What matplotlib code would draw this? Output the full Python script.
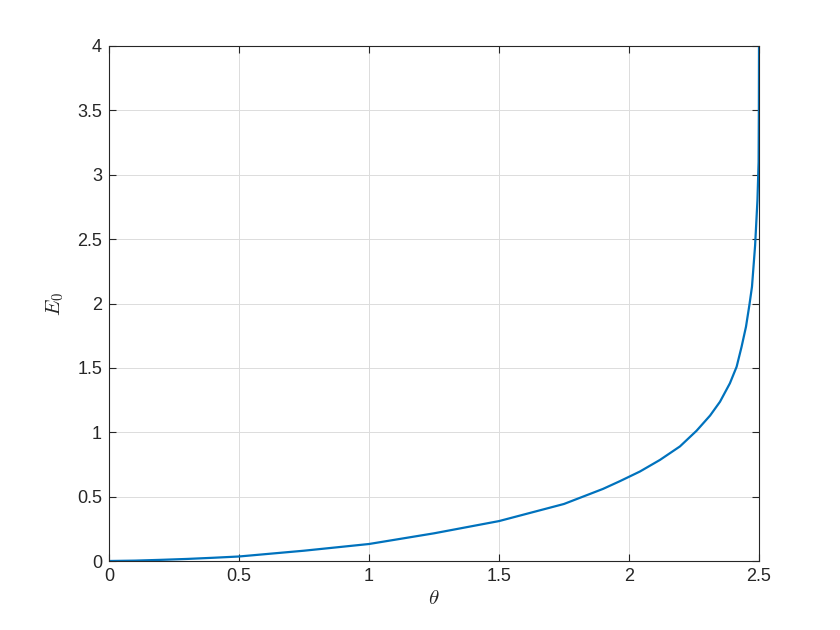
import matplotlib
matplotlib.use("Agg")
import matplotlib.pyplot as plt
from matplotlib.ticker import FuncFormatter

# values
theta = [0.0, 0.1, 0.2, 0.3, 0.4, 0.5, 0.75, 1.0, 1.25, 1.5, 1.75, 1.9, 1.965,
         2.042, 2.119, 2.196, 2.26, 2.312, 2.35, 2.388, 2.414, 2.433, 2.45,
         2.463, 2.473, 2.485, 2.494, 2.4985, 2.4995, 2.5]
E0 = [0.0, 0.003, 0.009, 0.016, 0.025, 0.035, 0.08, 0.132, 0.215, 0.31, 0.443,
      0.56, 0.62, 0.695, 0.785, 0.89, 1.012, 1.13, 1.237, 1.38, 1.509,
      1.664, 1.82, 1.988, 2.13, 2.45, 2.8, 3.1, 3.5, 4.0]

xticks = [0, 0.5, 1, 1.5, 2, 2.5]
yticks = [0, 0.5, 1, 1.5, 2, 2.5, 3, 3.5, 4]

plt.rcParams['font.family'] = ['Liberation Sans', 'DejaVu Sans']
plt.rcParams['mathtext.fontset'] = 'cm'

fig = plt.figure(figsize=(8.4, 6.3), dpi=100)
ax = fig.add_axes([109 / 840, 69 / 630, 650 / 840, 515 / 630])

ax.plot(theta, E0, color='#0072BD', linewidth=1.6)

ax.set_xlim(0, 2.5)
ax.set_ylim(0, 4)
ax.set_xticks(xticks)
ax.set_yticks(yticks)
fmt = FuncFormatter(lambda v, p: ('%g' % v))
ax.xaxis.set_major_formatter(fmt)
ax.yaxis.set_major_formatter(fmt)

ax.grid(True, color='#dcdcdc', linewidth=0.7)
ax.set_axisbelow(True)
ax.tick_params(direction='in', top=True, right=True, length=5, width=0.8,
               colors='#262626', labelsize=13, pad=5)
for s in ax.spines.values():
    s.set_color('#262626')
    s.set_linewidth(0.8)

ax.set_xlabel(r'$\theta$', fontsize=15, color='#262626', labelpad=3)
ax.set_ylabel(r'$E_0$', fontsize=15, color='#262626', labelpad=8)

fig.savefig('out.png', dpi=100)
